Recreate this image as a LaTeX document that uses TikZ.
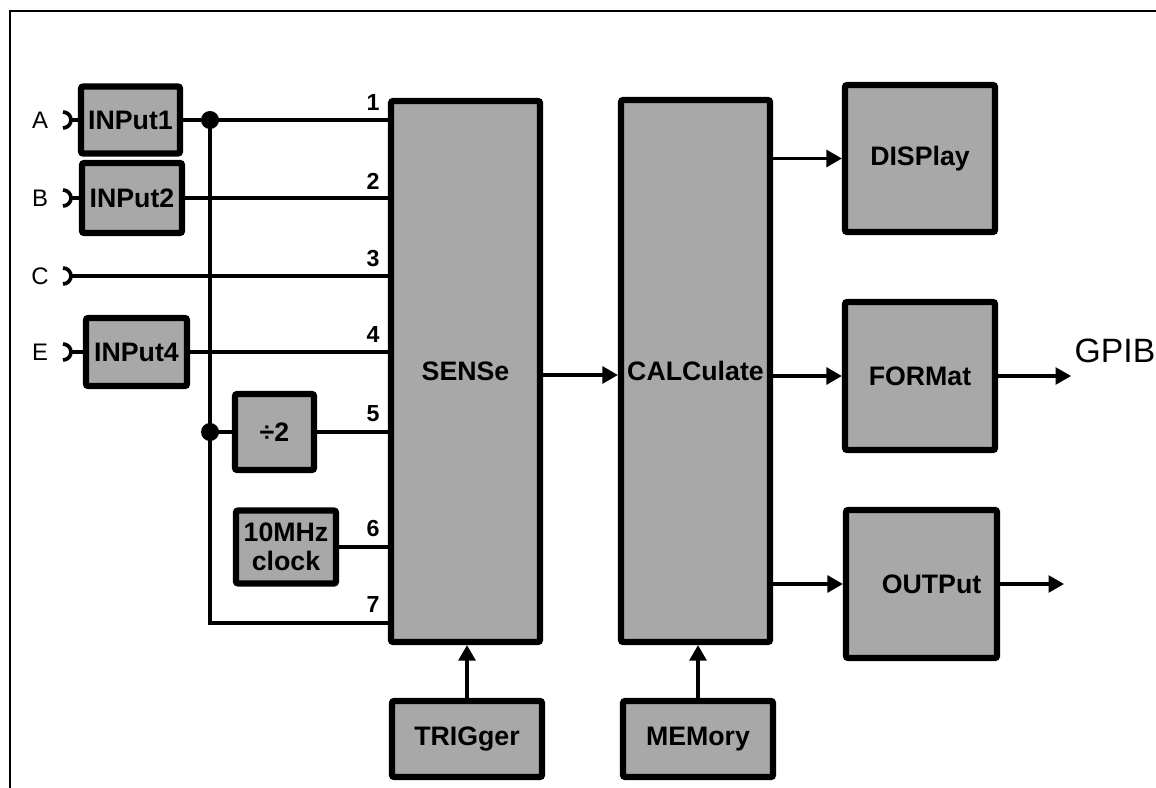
\documentclass[tikz,border=0pt]{standalone}
\usepackage{fontspec}
\setmainfont{Liberation Sans}
\usetikzlibrary{arrows.meta}
\definecolor{boxgray}{HTML}{A8A8A8}
\newcommand\blkfont{\bfseries\fontsize{19}{21}\selectfont}
\newcommand\pinfont{\fontsize{17}{19}\selectfont}
\newcommand\numfont{\bfseries\fontsize{16.5}{18}\selectfont}
\newcommand\gpibfont{\fontsize{24}{28}\selectfont}
\tikzset{
  blk/.style={draw, line width=4.4pt, fill=boxgray, rounded corners=1.5pt, inner sep=0pt, font=\blkfont, align=center},
  sz/.style 2 args={minimum width=#1*0.025cm, minimum height=#2*0.025cm},
  wire/.style={line width=2.2pt},
  arr/.style={wire, -{Triangle[length=11pt,width=12pt]}},
  pin/.style={font=\pinfont, inner sep=0pt},
  num/.style={font=\numfont, inner sep=0pt},
  jdot/.style={circle, fill, inner sep=0pt, minimum size=0.45cm},
  jack/.pic={\draw[line width=2.6pt] (0,-8) arc[start angle=90, end angle=-90, radius=0.2cm];}
}
\begin{document}
\begin{tikzpicture}[x=0.025cm, y=-0.025cm]
\useasboundingbox (0,0) rectangle (1156,788);
% frame
\draw[line width=1.6pt] (1156,11) -- (10,11) -- (10,788);

% blocks
\node[blk, sz={99}{67}] (in1) at (130.5,120) {INPut1};
\node[blk, sz={100}{70}] (in2) at (132,198) {INPut2};
\node[blk, sz={101}{68}] (in4) at (136.5,352) {INPut4};
\node[blk, sz={79}{76}] (div) at (274.5,432) {÷2};
\node[blk, sz={100}{73}] (clk) at (286,547) {10MHz\\clock};
\node[blk, sz={149}{541}] (sense) at (465.5,371.5) {SENSe};
\node[blk, sz={149}{542}] (calc) at (695.5,371) {CALCulate};
\node[blk, sz={150}{147}] (disp) at (920,158.5) {DISPlay};
\node[blk, sz={150}{148}] (fmt) at (920,376) {FORMat};
\node[blk, sz={151}{148}] (out) at (921.5,584) {\hspace*{0.5cm}OUTPut};
\node[blk, sz={150}{76}] (trig) at (467,739) {TRIGger};
\node[blk, sz={150}{76}] (mem) at (698,739) {MEMory};

% input pins
\node[pin] (lA) at (40,120) {A};
\node[pin] (lB) at (40,198) {B};
\node[pin] (lC) at (40,276) {C};
\node[pin] (lE) at (40,352) {E};
\pic at (63,120) {jack};
\pic at (63,198) {jack};
\pic at (63,276) {jack};
\pic at (63,352) {jack};
\coordinate (pA) at (71,120);
\coordinate (pB) at (71,198);
\coordinate (pC) at (71,276);
\coordinate (pE) at (71,352);
\draw[wire] (pA) -- (in1.west);
\draw[wire] (pB) -- (in2.west);
\draw[wire] (pE) -- (in4.west);
\draw[wire] (pC) -- (sense.west |- pC);

% channels into SENSe
\coordinate (j1) at (210,120);
\coordinate (j2) at (210,432);
\coordinate (t7) at (210,623);
\draw[wire] (in1.east) -- (sense.west |- in1.east);
\draw[wire] (in2.east) -- (sense.west |- in2.east);
\draw[wire] (in4.east) -- (sense.west |- in4.east);
\draw[wire] (j1) -- (t7) -- (sense.west |- t7);
\draw[wire] (j2) -- (div.west);
\draw[wire] (div.east) -- (sense.west |- div.east);
\draw[wire] (clk.east) -- (sense.west |- clk.east);
\node[jdot] (d1) at (j1) {};
\node[jdot] (d2) at (j2) {};

% channel numbers
\node[num] (n1) at (373,103) {1};
\node[num] (n2) at (373,181) {2};
\node[num] (n3) at (373,259) {3};
\node[num] (n4) at (373,335) {4};
\node[num] (n5) at (373,414) {5};
\node[num] (n6) at (373,529) {6};
\node[num] (n7) at (373,605) {7};

% data path
\draw[arr] (sense.east |- 0,375) -- (calc.west |- 0,375);
\draw[arr] (calc.east |- disp.west) -- (disp.west);
\draw[arr] (calc.east |- fmt.west) -- (fmt.west);
\draw[arr] (calc.east |- out.west) -- (out.west);
\coordinate (gp) at (1071,376);
\coordinate (oo) at (1064,584);
\draw[arr] (fmt.east) -- (gp);
\draw[arr] (out.east) -- (oo);
\node[font=\gpibfont, inner sep=0pt] (gpib) at (1115,351) {GPIB};
\draw[arr] (trig.north) -- (trig.north |- sense.south);
\draw[arr] (mem.north) -- (mem.north |- calc.south);
\end{tikzpicture}
\end{document}
